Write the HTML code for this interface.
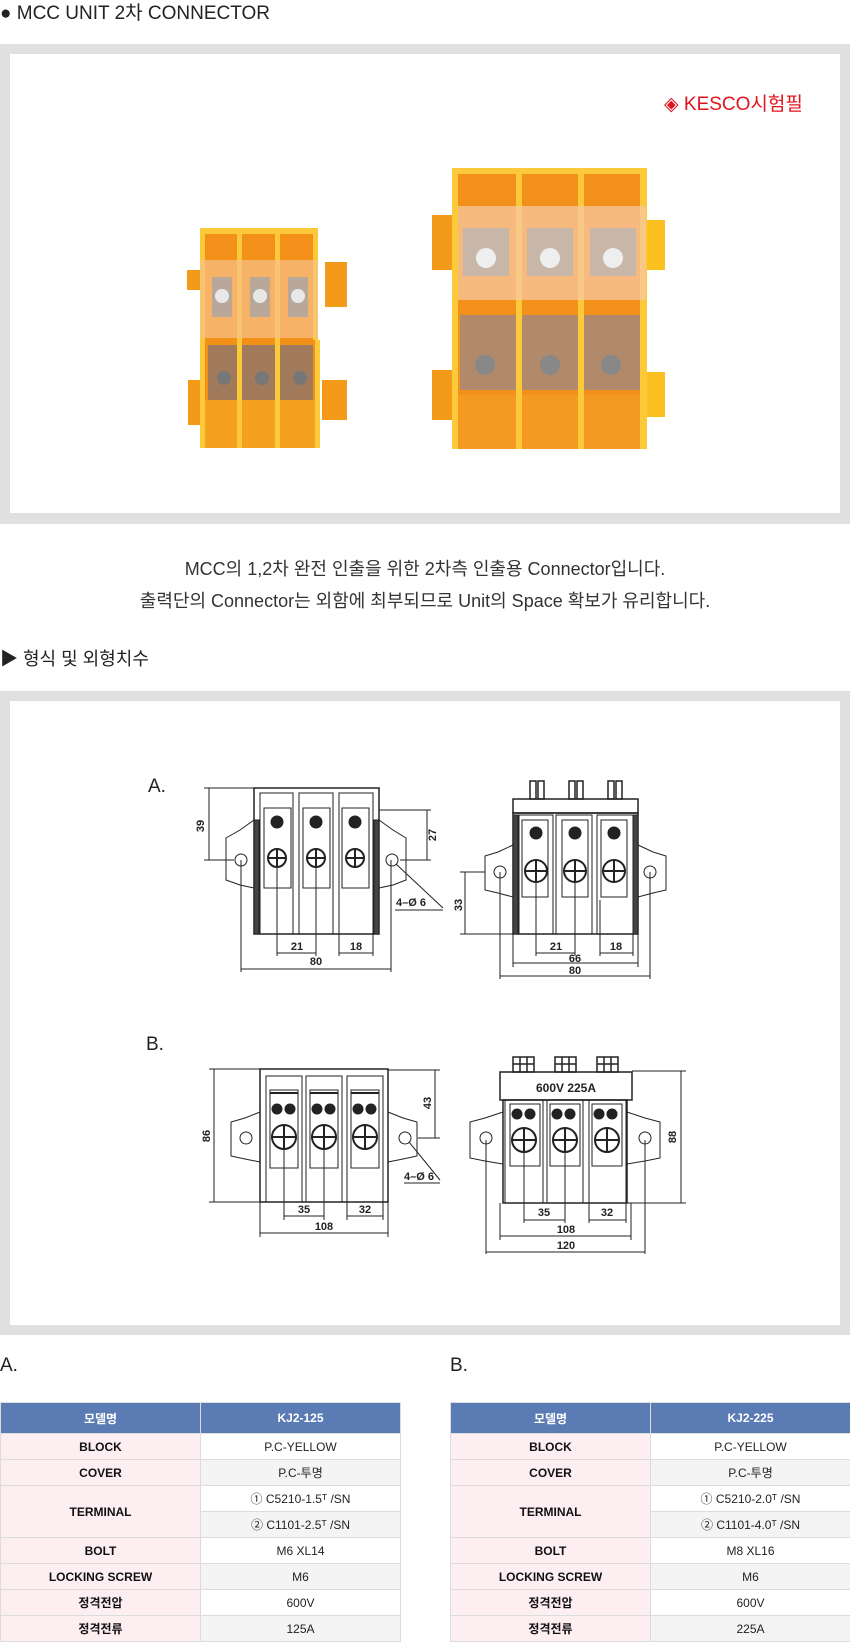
<!DOCTYPE html>
<html><head><meta charset="utf-8"><style>
*{margin:0;padding:0;box-sizing:border-box}
body{width:850px;height:1642px;background:#fff;position:relative;font-family:"Liberation Sans","Noto Sans CJK KR",sans-serif;color:#333;overflow:hidden}
.abs{position:absolute}
.band{position:absolute;left:0;width:850px;background:#e0e0e0}
.inner{position:absolute;left:10px;width:830px;background:#fff}
table{position:absolute;border-collapse:collapse;font-size:12px;table-layout:fixed}
td,th{border:1px solid #dcdcdc;text-align:center;height:26px;color:#222}
th{background:#5b7bb4;color:#fff;height:31px;font-weight:bold}
td.k{background:#fdeef2;font-weight:bold;color:#111}
tr.g td.v{background:#f4f4f4}
</style></head><body>
<div class="abs" style="left:0;top:-2px;font-size:19px;color:#222">● MCC UNIT 2차 CONNECTOR</div>
<div class="band" style="top:44px;height:480px"></div>
<div class="inner" style="top:54px;height:459px"></div>
<div class="abs" style="left:664px;top:89px;font-size:19px;color:#e0141e">◈ KESCO시험필</div>
<svg class="abs" style="left:0;top:0" width="850" height="520">
<!-- left product -->
<g>
<rect x="187" y="270" width="20" height="20" fill="#f39a1a"/><rect x="325" y="262" width="22" height="45" fill="#f39a1a"/>
<rect x="188" y="380" width="20" height="45" fill="#f39a1a"/><rect x="322" y="380" width="25" height="40" fill="#f39a1a"/>
<rect x="200" y="228" width="118" height="112" fill="#f3901a"/>
<rect x="200" y="228" width="118" height="6" fill="#fcc93a"/>
<rect x="200" y="228" width="5" height="112" fill="#fcc93a"/><rect x="237" y="228" width="5" height="112" fill="#fcc93a"/><rect x="275" y="228" width="5" height="112" fill="#fcc93a"/><rect x="313" y="228" width="5" height="112" fill="#fcc93a"/>
<rect x="200" y="260" width="118" height="78" fill="#f7c28a" opacity="0.7"/>
<rect x="212" y="277" width="20" height="40" fill="#b9a89a"/><rect x="250" y="277" width="20" height="40" fill="#b9a89a"/><rect x="288" y="277" width="20" height="40" fill="#b9a89a"/>
<circle cx="222" cy="296" r="7" fill="#e8e8e8"/><circle cx="260" cy="296" r="7" fill="#e8e8e8"/><circle cx="298" cy="296" r="7" fill="#e8e8e8"/>
<rect x="200" y="340" width="120" height="108" fill="#f3901a"/>
<rect x="208" y="345" width="105" height="55" fill="#a07a5a"/>
<circle cx="224" cy="378" r="7" fill="#777"/><circle cx="262" cy="378" r="7" fill="#777"/><circle cx="300" cy="378" r="7" fill="#777"/>
<rect x="200" y="400" width="120" height="48" fill="#f5a020"/>
<rect x="237" y="340" width="5" height="108" fill="#fcc93a"/><rect x="275" y="340" width="5" height="108" fill="#fcc93a"/><rect x="315" y="340" width="5" height="108" fill="#fcc93a"/><rect x="200" y="340" width="5" height="108" fill="#fcc93a"/>
</g>
<!-- right product -->
<g>
<rect x="432" y="215" width="22" height="55" fill="#f39a1a"/><rect x="645" y="220" width="20" height="50" fill="#f9c020"/>
<rect x="432" y="370" width="22" height="50" fill="#f39a1a"/><rect x="645" y="372" width="20" height="45" fill="#f9c020"/>
<rect x="452" y="168" width="195" height="140" fill="#f3901a"/>
<rect x="452" y="168" width="195" height="6" fill="#fcc93a"/>
<rect x="452" y="168" width="6" height="140" fill="#fcc93a"/><rect x="516" y="168" width="6" height="140" fill="#fcc93a"/><rect x="578" y="168" width="6" height="140" fill="#fcc93a"/><rect x="640" y="168" width="7" height="140" fill="#fcc93a"/>
<rect x="458" y="206" width="188" height="94" fill="#f7c7a0" opacity="0.75"/>
<rect x="463" y="228" width="46" height="48" fill="#c8b6a8"/><rect x="527" y="228" width="46" height="48" fill="#c8b6a8"/><rect x="590" y="228" width="46" height="48" fill="#c8b6a8"/>
<circle cx="486" cy="258" r="10" fill="#eee"/><circle cx="550" cy="258" r="10" fill="#eee"/><circle cx="613" cy="258" r="10" fill="#eee"/>
<rect x="452" y="308" width="195" height="141" fill="#f3901a"/>
<rect x="460" y="315" width="180" height="75" fill="#b08a6a"/>
<circle cx="485" cy="365" r="10" fill="#888"/><circle cx="550" cy="365" r="10" fill="#888"/><circle cx="611" cy="365" r="10" fill="#888"/>
<rect x="452" y="395" width="195" height="54" fill="#f59a20"/>
<rect x="452" y="308" width="6" height="141" fill="#fcc93a"/><rect x="516" y="308" width="6" height="141" fill="#fcc93a"/><rect x="578" y="308" width="6" height="141" fill="#fcc93a"/><rect x="640" y="308" width="7" height="141" fill="#fcc93a"/>
</g>
</svg>
<div class="abs" style="left:0;width:850px;top:553px;text-align:center;font-size:18px;line-height:32px;color:#333">MCC의 1,2차 완전 인출을 위한 2차측 인출용 Connector입니다.<br>출력단의 Connector는 외함에 최부되므로 Unit의 Space 확보가 유리합니다.</div>
<div class="abs" style="left:0;top:645px;font-size:18px;color:#222">▶ 형식 및 외형치수</div>
<div class="band" style="top:691px;height:644px"></div>
<div class="inner" style="top:701px;height:624px"></div>
<div class="abs" style="left:148px;top:776px;font-size:19px;color:#222">A.</div>
<div class="abs" style="left:146px;top:1034px;font-size:19px;color:#222">B.</div>
<svg class="abs" style="left:0;top:0" width="850" height="1335" font-family="Liberation Sans, sans-serif" font-size="11" font-weight="bold" fill="none" stroke="#222" stroke-width="1">
<!-- A left -->
<g>
<path d="M254 820 L240 830 L226 838 L226 880 L240 885 L254 888"/><path d="M379 820 L393 830 L406 838 L406 880 L393 885 L379 888"/>
<circle cx="241" cy="860" r="6"/><circle cx="392" cy="860" r="6"/>
<rect x="254" y="788" width="125" height="146" stroke-width="1.5"/>
<rect x="254" y="820" width="5" height="114" fill="#444"/><rect x="374" y="820" width="5" height="114" fill="#444"/>
<rect x="260" y="793" width="33" height="141"/><rect x="299" y="793" width="34" height="141"/><rect x="339" y="793" width="34" height="141"/>
<rect x="264" y="808" width="27" height="80"/><rect x="303" y="808" width="27" height="80"/><rect x="342" y="808" width="27" height="80"/>
<circle cx="277" cy="822" r="6" fill="#222"/><circle cx="316" cy="822" r="6" fill="#222"/><circle cx="355" cy="822" r="6" fill="#222"/>
<g stroke-width="2"><circle cx="277" cy="858" r="9"/><circle cx="316" cy="858" r="9"/><circle cx="355" cy="858" r="9"/>
<path d="M268 858h18M277 849v18M307 858h18M316 849v18M346 858h18M355 849v18"/></g>
<path d="M209 788v72M204 788h50M204 860h30"/>
<path d="M427 810v50M379 810h52M400 860h31"/>
<path d="M277 858v98M316 858v98M339 900v56M373 900v56M277 953h39M339 953h34"/>
<path d="M241 860v112M391 860v112M241 969h150"/>
<path d="M396 864L443 908M395 910h48"/>
</g>
<g fill="#222" stroke="none">
<text x="0" y="0" transform="translate(204,826) rotate(-90)" text-anchor="middle">39</text>
<text x="0" y="0" transform="translate(436,835) rotate(-90)" text-anchor="middle">27</text>
<text x="297" y="950" text-anchor="middle">21</text><text x="356" y="950" text-anchor="middle">18</text>
<text x="316" y="965" text-anchor="middle">80</text><text x="396" y="906">4–Ø 6</text>
</g>
<!-- A right -->
<g>
<path d="M513 845 L498 852 L485 856 L485 890 L498 893 L513 897"/><path d="M638 845 L653 852 L666 856 L666 890 L653 893 L638 897"/>
<circle cx="500" cy="872" r="6"/><circle cx="650" cy="872" r="6"/>
<rect x="513" y="799" width="125" height="14" stroke-width="1.5"/>
<rect x="513" y="813" width="125" height="121" stroke-width="1.5"/>
<rect x="513" y="815" width="5" height="119" fill="#444"/><rect x="633" y="815" width="5" height="119" fill="#444"/>
<rect x="519" y="815" width="34" height="119"/><rect x="556" y="815" width="36" height="119"/><rect x="597" y="815" width="36" height="119"/>
<rect x="522" y="820" width="26" height="77"/><rect x="562" y="820" width="26" height="77"/><rect x="601" y="820" width="26" height="77"/>
<circle cx="536" cy="833" r="6" fill="#222"/><circle cx="575" cy="833" r="6" fill="#222"/><circle cx="614" cy="833" r="6" fill="#222"/>
<g stroke-width="2"><circle cx="536" cy="871" r="11"/><circle cx="575" cy="871" r="11"/><circle cx="614" cy="871" r="11"/>
<path d="M525 871h22M536 860v22M564 871h22M575 860v22M603 871h22M614 860v22"/></g>
<g stroke-width="1.5"><rect x="530" y="781" width="6" height="18"/><rect x="538" y="781" width="6" height="18"/><rect x="569" y="781" width="6" height="18"/><rect x="577" y="781" width="6" height="18"/><rect x="608" y="781" width="6" height="18"/><rect x="616" y="781" width="6" height="18"/></g>
<path d="M465 872v62M460 872h25M460 934h53"/>
<path d="M536 871v85M575 871v85M600 900v56M633 900v56M536 953h39M600 953h33"/>
<path d="M513 934v33M638 934v33M513 963h125M500 872v107M650 872v107M500 976h150"/>
</g>
<g fill="#222" stroke="none">
<text x="0" y="0" transform="translate(462,905) rotate(-90)" text-anchor="middle">33</text>
<text x="556" y="950" text-anchor="middle">21</text><text x="616" y="950" text-anchor="middle">18</text>
<text x="575" y="962" text-anchor="middle">66</text><text x="575" y="974" text-anchor="middle">80</text>
</g>
<!-- B left -->
<g>
<path d="M260 1112 L245 1118 L231 1122 L231 1156 L245 1159 L260 1162"/><path d="M388 1112 L403 1118 L417 1122 L417 1156 L403 1159 L388 1162"/>
<circle cx="246" cy="1138" r="6"/><circle cx="405" cy="1138" r="6"/>
<rect x="260" y="1069" width="128" height="133" stroke-width="1.5"/>
<rect x="266" y="1076" width="36" height="126"/><rect x="306" y="1076" width="36" height="126"/><rect x="347" y="1076" width="36" height="126"/>
<rect x="270" y="1090" width="28" height="78"/><rect x="310" y="1090" width="28" height="78"/><rect x="351" y="1090" width="28" height="78"/>
<path d="M270 1093h28M310 1093h28M351 1093h28" stroke-width="2"/>
<g fill="#222"><circle cx="277" cy="1109" r="5"/><circle cx="290" cy="1109" r="5"/><circle cx="317" cy="1109" r="5"/><circle cx="330" cy="1109" r="5"/><circle cx="358" cy="1109" r="5"/><circle cx="371" cy="1109" r="5"/></g>
<g stroke-width="2"><circle cx="284" cy="1137" r="12"/><circle cx="324" cy="1137" r="12"/><circle cx="365" cy="1137" r="12"/>
<path d="M272 1137h24M284 1125v24M312 1137h24M324 1125v24M353 1137h24M365 1125v24"/></g>
<path d="M214 1069v133M209 1069h51M209 1202h51"/>
<path d="M435 1070v68M388 1070h52M418 1138h22"/>
<path d="M284 1137v83M324 1137v83M347 1180v40M383 1180v40M284 1216h40M347 1216h36"/>
<path d="M260 1202v35M388 1202v35M260 1233h128"/>
<path d="M409 1142L440 1180M404 1183h36"/>
</g>
<g fill="#222" stroke="none">
<text x="0" y="0" transform="translate(210,1136) rotate(-90)" text-anchor="middle">86</text>
<text x="0" y="0" transform="translate(431,1103) rotate(-90)" text-anchor="middle">43</text>
<text x="304" y="1213" text-anchor="middle">35</text><text x="365" y="1213" text-anchor="middle">32</text>
<text x="324" y="1230" text-anchor="middle">108</text><text x="404" y="1180">4–Ø 6</text>
</g>
<!-- B right -->
<g>
<path d="M503 1112 L485 1118 L470 1122 L470 1158 L485 1161 L503 1164"/><path d="M627 1112 L645 1118 L660 1122 L660 1158 L645 1161 L627 1164"/>
<circle cx="486" cy="1138" r="6"/><circle cx="645" cy="1138" r="6"/>
<rect x="500" y="1072" width="132" height="28" stroke-width="1.5"/>
<rect x="503" y="1100" width="124" height="103" stroke-width="1.5"/>
<rect x="505" y="1100" width="38" height="103"/><rect x="547" y="1100" width="36" height="103"/><rect x="589" y="1100" width="37" height="103"/>
<rect x="510" y="1104" width="30" height="62"/><rect x="550" y="1104" width="30" height="62"/><rect x="592" y="1104" width="30" height="62"/>
<g fill="#222"><circle cx="517" cy="1114" r="5"/><circle cx="530" cy="1114" r="5"/><circle cx="557" cy="1114" r="5"/><circle cx="570" cy="1114" r="5"/><circle cx="599" cy="1114" r="5"/><circle cx="612" cy="1114" r="5"/></g>
<g stroke-width="2"><circle cx="524" cy="1140" r="12"/><circle cx="565" cy="1140" r="12"/><circle cx="607" cy="1140" r="12"/>
<path d="M512 1140h24M524 1128v24M553 1140h24M565 1128v24M595 1140h24M607 1128v24"/></g>
<g stroke-width="1.5"><rect x="513" y="1057" width="21" height="15"/><rect x="555" y="1057" width="21" height="15"/><rect x="597" y="1057" width="21" height="15"/>
<path d="M520 1057v15M527 1057v15M562 1057v15M569 1057v15M604 1057v15M611 1057v15M513 1064h21M555 1064h21M597 1064h21"/></g>
<path d="M681 1071v132M632 1071h54M627 1203h59"/>
<path d="M524 1140v83M565 1140v83M589 1180v43M626 1180v43M524 1220h41M589 1220h37"/>
<path d="M500 1203v37M631 1203v37M500 1236h131M486 1140v114M645 1140v114M486 1252h159"/>
</g>
<g fill="#222" stroke="none">
<text x="566" y="1092" text-anchor="middle" font-size="12">600V  225A</text>
<text x="0" y="0" transform="translate(676,1137) rotate(-90)" text-anchor="middle">88</text>
<text x="544" y="1216" text-anchor="middle">35</text><text x="607" y="1216" text-anchor="middle">32</text>
<text x="566" y="1233" text-anchor="middle">108</text><text x="566" y="1249" text-anchor="middle">120</text>
</g>
</svg>
<div class="abs" style="left:0;top:1355px;font-size:19px;color:#222">A.</div>
<div class="abs" style="left:450px;top:1355px;font-size:19px;color:#222">B.</div>
<table style="left:0;top:1402px;width:400px">
<colgroup><col style="width:200px"><col style="width:200px"></colgroup>
<tr><th>모델명</th><th>KJ2-125</th></tr>
<tr><td class="k">BLOCK</td><td class="v">P.C-YELLOW</td></tr>
<tr class="g"><td class="k">COVER</td><td class="v">P.C-투명</td></tr>
<tr><td class="k" rowspan="2">TERMINAL</td><td class="v">① C5210-1.5ᵀ /SN</td></tr>
<tr class="g"><td class="v">② C1101-2.5ᵀ /SN</td></tr>
<tr><td class="k">BOLT</td><td class="v">M6 XL14</td></tr>
<tr class="g"><td class="k">LOCKING SCREW</td><td class="v">M6</td></tr>
<tr><td class="k">정격전압</td><td class="v">600V</td></tr>
<tr class="g"><td class="k">정격전류</td><td class="v">125A</td></tr>
</table>
<table style="left:450px;top:1402px;width:400px">
<colgroup><col style="width:200px"><col style="width:200px"></colgroup>
<tr><th>모델명</th><th>KJ2-225</th></tr>
<tr><td class="k">BLOCK</td><td class="v">P.C-YELLOW</td></tr>
<tr class="g"><td class="k">COVER</td><td class="v">P.C-투명</td></tr>
<tr><td class="k" rowspan="2">TERMINAL</td><td class="v">① C5210-2.0ᵀ /SN</td></tr>
<tr class="g"><td class="v">② C1101-4.0ᵀ /SN</td></tr>
<tr><td class="k">BOLT</td><td class="v">M8 XL16</td></tr>
<tr class="g"><td class="k">LOCKING SCREW</td><td class="v">M6</td></tr>
<tr><td class="k">정격전압</td><td class="v">600V</td></tr>
<tr class="g"><td class="k">정격전류</td><td class="v">225A</td></tr>
</table>
</body></html>
